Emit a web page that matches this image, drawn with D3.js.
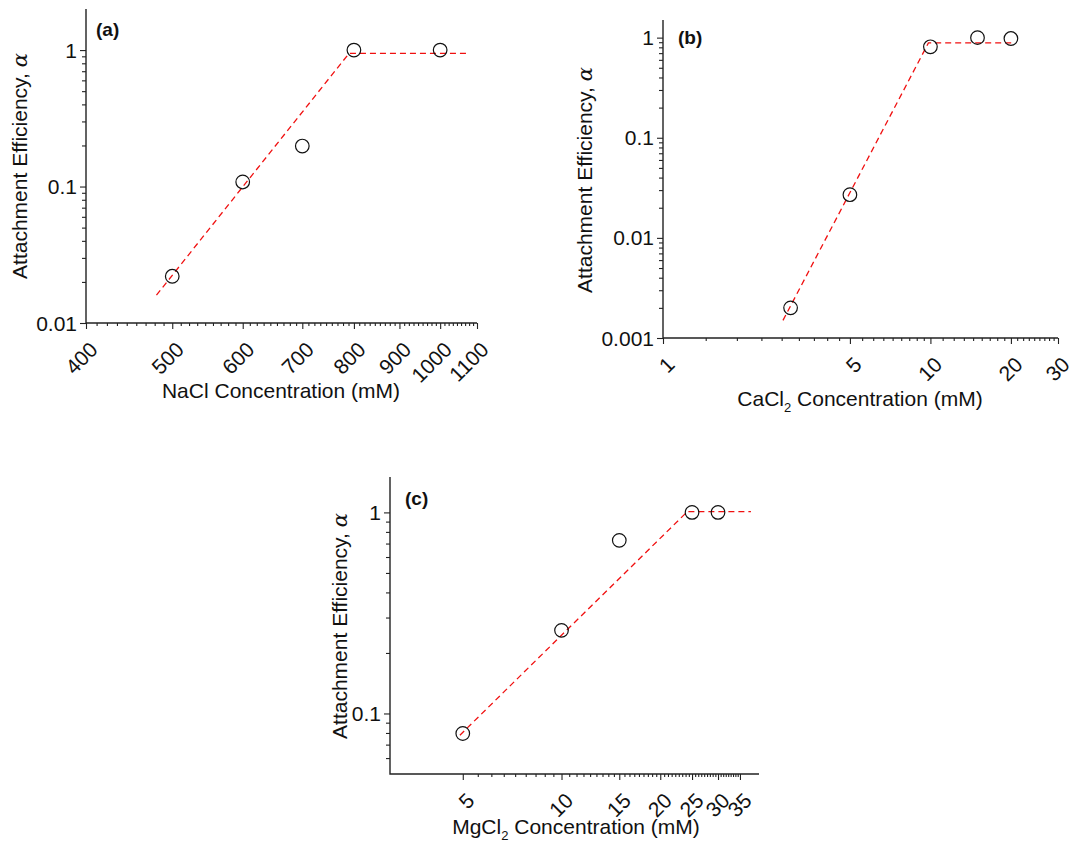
<!DOCTYPE html>
<html>
<head>
<meta charset="utf-8">
<script src="https://cdn.jsdelivr.net/npm/d3@7"></script>
<style>
  body { margin: 0; background: #fff; }
  text { font-family: "Liberation Sans", Arial, sans-serif; fill: #111; }
</style>
</head>
<body>
<script>
// (a) NaCl
const naclConc = [500, 600, 700, 800, 1000];
const naclAlpha = [0.022, 0.108, 0.198, 1.0, 1.0];
const naclFitConc = [480, 790, 1076];
const naclFitAlpha = [0.016, 0.946, 0.946];
const naclTicks = [400, 500, 600, 700, 800, 900, 1000, 1100];

// (b) CaCl2
const caclConc = [3, 5, 10, 15, 20];
const caclAlpha = [0.002, 0.027, 0.81, 1.0, 0.98];
const caclFitConc = [2.81, 9.83, 20.5];
const caclFitAlpha = [0.0015, 0.885, 0.885];
const caclTicks = [1, 5, 10, 20, 30];

// (c) MgCl2
const mgclConc = [5, 10, 15, 25, 30];
const mgclAlpha = [0.0795, 0.259, 0.726, 1.0, 1.0];
const mgclFitConc = [4.9, 24.2, 37.8];
const mgclFitAlpha = [0.078, 1.01, 1.01];
const mgclTicks = [5, 10, 15, 20, 25, 30, 35];

const yTicksA = [0.01, 0.1, 1];
const yTicksB = [0.001, 0.01, 0.1, 1];
const yTicksC = [0.1, 1];

const svg = d3.select("body").append("svg")
  .attr("width", 1073)
  .attr("height", 845);

// 8 evenly spaced minor ticks between each pair of major ticks
const xMinor = (majors) => {
  const out = [];
  for (let i = 0; i < majors.length - 1; i++) {
    const step = (majors[i + 1] - majors[i]) / 9;
    for (let k = 1; k < 9; k++) out.push(majors[i] + k * step);
  }
  return out;
};

// log minor ticks 2..9 inside the domain
const yMinor = (domain) => {
  const out = [];
  for (let e = -4; e <= 1; e++) {
    for (let m = 2; m <= 9; m++) {
      const v = m * Math.pow(10, e);
      if (v > domain[0] * 1.0001 && v < domain[1]) out.push(v);
    }
  }
  return out;
};

const fmt = d => String(d);

const styleAxis = (sel) => {
  sel.selectAll(".domain").remove();
  sel.selectAll(".tick line").attr("stroke", "#222").attr("stroke-width", 1.1);
};

const drawPanel = (p) => {
  const g = svg.append("g");
  const x = d3.scaleLog().domain(p.xDomain).range([p.left, p.right]);
  const y = d3.scaleLog().domain(p.yDomain).range([p.bottom, p.top]);

  // x axis: minor and major ticks in separate groups
  g.append("g").attr("transform", `translate(0,${p.bottom})`)
    .call(d3.axisBottom(x).tickValues(xMinor(p.xTicks)).tickSize(3).tickFormat(""))
    .call(styleAxis);
  g.append("g").attr("transform", `translate(0,${p.bottom})`)
    .call(d3.axisBottom(x).tickValues(p.xTicks).tickSize(6).tickFormat(""))
    .call(styleAxis);

  // y axis
  g.append("g").attr("transform", `translate(${p.left},0)`)
    .call(d3.axisLeft(y).tickValues(yMinor(p.yDomain)).tickSize(4).tickFormat(""))
    .call(styleAxis);
  g.append("g").attr("transform", `translate(${p.left},0)`)
    .call(d3.axisLeft(y).tickValues(p.yTicks).tickSize(6).tickFormat(""))
    .call(styleAxis);

  // axis lines
  g.append("path")
    .attr("d", `M${p.left},${p.top}V${p.bottom}H${p.right}`)
    .attr("fill", "none")
    .attr("stroke", "#222")
    .attr("stroke-width", 1.4);

  g.selectAll(".xlab")
    .data(p.xTicks)
    .enter().append("text")
    .attr("transform", d => `translate(${x(d) + 13},${p.bottom + 28}) rotate(-45)`)
    .attr("text-anchor", "end")
    .attr("font-size", 21)
    .text(fmt);

  g.selectAll(".ylab")
    .data(p.yTicks)
    .enter().append("text")
    .attr("x", p.left - 9)
    .attr("y", d => y(d))
    .attr("dy", "0.36em")
    .attr("text-anchor", "end")
    .attr("font-size", 21)
    .text(fmt);

  // fit line
  const fit = p.fitX.map((v, i) => [v, p.fitY[i]]);
  g.append("path")
    .datum(fit)
    .attr("fill", "none")
    .attr("stroke", "#f01010")
    .attr("stroke-width", 1.3)
    .attr("stroke-dasharray", "6,4")
    .attr("d", d3.line().x(d => x(d[0])).y(d => y(d[1])));

  // data points
  g.selectAll("circle")
    .data(p.xs.map((v, i) => [v, p.ys[i]]))
    .enter().append("circle")
    .attr("cx", d => x(d[0]))
    .attr("cy", d => y(d[1]))
    .attr("r", 6.8)
    .attr("fill", "none")
    .attr("stroke", "#111")
    .attr("stroke-width", 1.2);

  // panel label
  g.append("text")
    .attr("x", p.labelX).attr("y", p.labelY)
    .attr("font-size", 19).attr("font-weight", "bold")
    .text(p.label);

  // axis titles
  const xt = g.append("text")
    .attr("x", p.xTitleX).attr("y", p.xTitleY)
    .attr("text-anchor", "middle")
    .attr("font-size", 21);
  xt.append("tspan").text(p.salt[0]);
  if (p.salt[1]) {
    xt.append("tspan").attr("font-size", 13).attr("dy", 6).text(p.salt[1]);
    xt.append("tspan").attr("dy", -6).text(" Concentration (mM)");
  } else {
    xt.append("tspan").text(" Concentration (mM)");
  }

  const yt = g.append("text")
    .attr("transform", `translate(${p.yTitleX},${p.yTitleY}) rotate(-90)`)
    .attr("text-anchor", "middle")
    .attr("font-size", 21);
  yt.append("tspan").text("Attachment Efficiency, ");
  yt.append("tspan").attr("font-family", "DejaVu Serif, serif").attr("font-style", "italic").text("α");
};

drawPanel({
  xs: naclConc, ys: naclAlpha, fitX: naclFitConc, fitY: naclFitAlpha,
  xTicks: naclTicks, yTicks: yTicksA,
  xDomain: [400, 1100], yDomain: [0.01, 2],
  left: 86, right: 477, top: 9, bottom: 323,
  label: "(a)", labelX: 96, labelY: 36,
  salt: ["NaCl"], xTitleX: 281, xTitleY: 398,
  yTitleX: 27, yTitleY: 166
});

drawPanel({
  xs: caclConc, ys: caclAlpha, fitX: caclFitConc, fitY: caclFitAlpha,
  xTicks: caclTicks, yTicks: yTicksB,
  xDomain: [1, 30], yDomain: [0.001, 1.5],
  left: 663, right: 1058, top: 20, bottom: 338,
  label: "(b)", labelX: 678, labelY: 44,
  salt: ["CaCl", "2"], xTitleX: 860, xTitleY: 406,
  yTitleX: 592, yTitleY: 180
});

drawPanel({
  xs: mgclConc, ys: mgclAlpha, fitX: mgclFitConc, fitY: mgclFitAlpha,
  xTicks: mgclTicks, yTicks: yTicksC,
  xDomain: [3, 40], yDomain: [0.05, 1.5],
  left: 390, right: 759, top: 477, bottom: 774,
  label: "(c)", labelX: 405, labelY: 505,
  salt: ["MgCl", "2"], xTitleX: 576, xTitleY: 834,
  yTitleX: 347, yTitleY: 626
});
</script>
</body>
</html>
